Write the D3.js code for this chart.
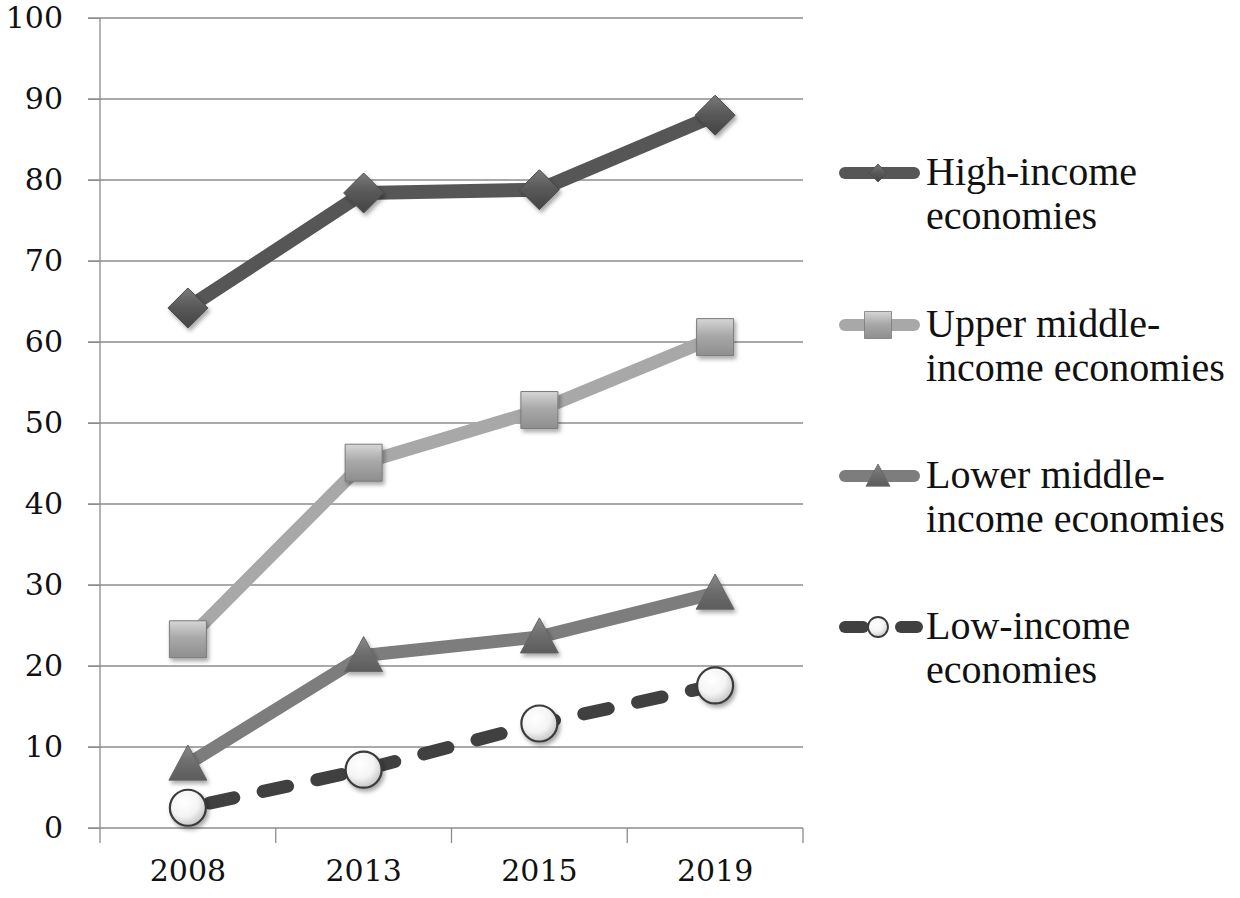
<!DOCTYPE html>
<html>
<head>
<meta charset="utf-8">
<script src="https://cdn.jsdelivr.net/npm/d3@7"></script>
<style>
    body { margin: 0; background: #fff; }
    svg { display: block; }
</style>
</head>
<body>
<svg id="chart"></svg>
<script>
'use strict';

// values
const years = ["2008", "2013", "2015", "2019"];
const highIncome = [64.2, 78.4, 78.8, 88.0];
const upperMiddle = [23.3, 45.1, 51.6, 60.6];
const lowerMiddle = [7.9, 21.3, 23.6, 29.0];
const lowIncome = [2.5, 7.2, 12.9, 17.6];
const yTicks = [0, 10, 20, 30, 40, 50, 60, 70, 80, 90, 100];
const legendLabels = [
    ["High-income", "economies"],
    ["Upper middle-", "income economies"],
    ["Lower middle-", "income economies"],
    ["Low-income", "economies"]
];

let series = [
    { name: "high", values: highIncome, label: legendLabels[0], line: "#565656", width: 14, dash: null, marker: "diamond", fill: "url(#gradDiamond)", stroke: "#4a4a4a" },
    { name: "upper", values: upperMiddle, label: legendLabels[1], line: "#a8a8a8", width: 13, dash: null, marker: "square", fill: "url(#gradSquare)", stroke: "#7a7a7a" },
    { name: "lower", values: lowerMiddle, label: legendLabels[2], line: "#7d7d7d", width: 13, dash: null, marker: "triangle", fill: "url(#gradTriangle)", stroke: "#666666" },
    { name: "low", values: lowIncome, label: legendLabels[3], line: "#404040", width: 13, dash: "25,30", marker: "circle", fill: "url(#gradCircle)", stroke: "#3a3a3a" }
];

function getChartConfig() {
    let margin = { top: 18, right: 437, bottom: 70, left: 100 },
    width = 1240 - margin.left - margin.right,
    height = 898 - margin.top - margin.bottom;

    let svg = d3.select("#chart")
        .attr("width", width + margin.left + margin.right)
        .attr("height", height + margin.top + margin.bottom);

    let container = svg.append("g")
        .attr("transform", "translate(" + margin.left + "," + margin.top + ")");

    return { width, height, container, margin, svg }
}

function getScales(config) {
    let { width, height } = config;
    let xScale = d3.scaleBand()
        .domain(years)
        .range([0, width]);
    let yScale = d3.scaleLinear()
        .domain([0, 100])
        .range([height, 0]);
    return { xScale, yScale }
}

function addDefs(config) {
    let defs = config.svg.append("defs");

    let shadow = defs.append("filter").attr("id", "shadow")
        .attr("x", "-50%").attr("y", "-50%").attr("width", "200%").attr("height", "200%");
    shadow.append("feDropShadow")
        .attr("dx", 2).attr("dy", 3)
        .attr("stdDeviation", 2.2)
        .attr("flood-color", "#000")
        .attr("flood-opacity", 0.35);

    let grads = [
        { id: "gradDiamond", stops: ["#7a7a7a", "#5a5a5a", "#444444"] },
        { id: "gradSquare", stops: ["#d6d6d6", "#a9a9a9", "#8e8e8e"] },
        { id: "gradTriangle", stops: ["#8a8a8a", "#6f6f6f", "#5c5c5c"] }
    ];
    grads.forEach(g => {
        let lg = defs.append("linearGradient").attr("id", g.id)
            .attr("x1", 0).attr("y1", 0).attr("x2", 0).attr("y2", 1);
        lg.append("stop").attr("offset", "0%").attr("stop-color", g.stops[0]);
        lg.append("stop").attr("offset", "45%").attr("stop-color", g.stops[1]);
        lg.append("stop").attr("offset", "100%").attr("stop-color", g.stops[2]);
    })

    let rg = defs.append("radialGradient").attr("id", "gradCircle")
        .attr("cx", "40%").attr("cy", "35%").attr("r", "65%");
    rg.append("stop").attr("offset", "0%").attr("stop-color", "#ffffff");
    rg.append("stop").attr("offset", "60%").attr("stop-color", "#f4f4f4");
    rg.append("stop").attr("offset", "100%").attr("stop-color", "#c8c8c8");
}

// marker outline centred on its bounding box
function markerPath(type, s) {
    if (type === "diamond") {
        return "M0," + (-s) + "L" + s + ",0L0," + s + "L" + (-s) + ",0Z";
    }
    if (type === "square") {
        return "M" + (-s) + "," + (-s) + "H" + s + "V" + s + "H" + (-s) + "Z";
    }
    if (type === "triangle") {
        return "M0," + (-s) + "L" + s + "," + s * 0.85 + "L" + (-s) + "," + s * 0.85 + "Z";
    }
    return d3.arc()({ innerRadius: 0, outerRadius: s, startAngle: 0, endAngle: 2 * Math.PI });
}

let markerSize = { diamond: 20, square: 18.5, triangle: 19, circle: 18 };
let legendMarkerSize = { diamond: 9, square: 13.5, triangle: 12, circle: 10 };

function drawAxes(config, scales) {
    let { container, width, height } = config;
    let { xScale, yScale } = scales;

    // horizontal grid lines
    container.append("g")
        .selectAll("line")
        .data(yTicks)
        .enter()
        .append("line")
        .attr("x1", -12)
        .attr("x2", width)
        .attr("y1", d => yScale(d))
        .attr("y2", d => yScale(d))
        .style("stroke", "#8c8c8c")
        .style("stroke-width", 1.3);

    let yAxis = d3.axisLeft(yScale)
        .tickValues(yTicks)
        .tickSize(12)
        .tickPadding(25);

    let yg = container.append("g")
        .attr("class", "y axis")
        .call(yAxis);
    yg.select(".domain").remove();
    yg.selectAll("line").style("stroke", "#8c8c8c");
    yg.selectAll("text")
        .style("font-family", "'DejaVu Serif', serif")
        .style("font-size", "30px")
        .style("fill", "#111");

    container.append("line")
        .attr("x1", 0).attr("x2", 0)
        .attr("y1", 0).attr("y2", height + 15)
        .style("stroke", "#8c8c8c")
        .style("stroke-width", 1.3);

    // category tick marks on band edges
    let edges = years.map(d => xScale(d)).concat([width]);
    container.append("g")
        .selectAll("line")
        .data(edges.slice(1))
        .enter()
        .append("line")
        .attr("x1", d => d).attr("x2", d => d)
        .attr("y1", height).attr("y2", height + 15)
        .style("stroke", "#8c8c8c")
        .style("stroke-width", 1.3);

    let xAxis = d3.axisBottom(xScale).tickSize(0).tickPadding(32);
    let xg = container.append("g")
        .attr("class", "x axis")
        .attr("transform", "translate(0," + height + ")")
        .call(xAxis);
    xg.select(".domain").remove();
    xg.selectAll("text")
        .style("font-family", "'DejaVu Serif', serif")
        .style("font-size", "30px")
        .style("fill", "#111");
}

function drawSeries(config, scales) {
    let { container } = config;
    let { xScale, yScale } = scales;
    let half = xScale.bandwidth() / 2;

    let line = d3.line()
        .x((d, i) => xScale(years[i]) + half)
        .y(d => yScale(d));

    series.forEach(s => {
        let g = container.append("g").attr("class", "series " + s.name);

        g.append("path")
            .datum(s.values)
            .attr("d", line)
            .attr("fill", "none")
            .attr("stroke", s.line)
            .attr("stroke-width", s.width)
            .attr("stroke-linecap", s.dash ? "round" : "butt")
            .attr("stroke-linejoin", "round")
            .attr("stroke-dasharray", s.dash)
            .attr("stroke-dashoffset", s.dash ? -22 : null);

        g.selectAll(".marker")
            .data(s.values)
            .enter()
            .append("path")
            .attr("class", "marker")
            .attr("transform", (d, i) => "translate(" + (xScale(years[i]) + half) + "," + yScale(d) + ")")
            .attr("d", markerPath(s.marker, markerSize[s.marker]))
            .attr("fill", s.fill)
            .attr("stroke", s.stroke)
            .attr("stroke-width", s.marker === "circle" ? 2.2 : 1)
            .attr("filter", "url(#shadow)");
    })
}

function drawLegend(config) {
    let { svg } = config;
    let rows = [173, 325, 476, 627];

    let items = svg.selectAll(".legendItem")
        .data(series)
        .enter()
        .append("g")
        .attr("class", "legendItem")
        .attr("transform", (d, i) => "translate(840," + rows[i] + ")");

    items.each(function (d) {
        let g = d3.select(this);
        if (d.dash) {
            [[0, 24], [56, 78]].forEach(p => {
                g.append("line")
                    .attr("x1", p[0] + 5).attr("x2", p[1] - 1)
                    .attr("y1", 0).attr("y2", 0)
                    .attr("stroke", d.line)
                    .attr("stroke-width", 12)
                    .attr("stroke-linecap", "round");
            })
        } else {
            g.append("line")
                .attr("x1", 5).attr("x2", 74)
                .attr("y1", 0).attr("y2", 0)
                .attr("stroke", d.line)
                .attr("stroke-width", 12)
                .attr("stroke-linecap", "round");
        }
        g.append("path")
            .attr("transform", "translate(38,0)")
            .attr("d", markerPath(d.marker, legendMarkerSize[d.marker]))
            .attr("fill", d.fill)
            .attr("stroke", d.stroke)
            .attr("stroke-width", d.marker === "circle" ? 1.8 : 0.8);
    })

    items.append("text")
        .attr("x", 86)
        .attr("y", 12)
        .style("font-family", "'Liberation Serif', 'Times New Roman', serif")
        .style("font-size", "40px")
        .style("fill", "#111")
        .selectAll("tspan")
        .data(d => d.label)
        .enter()
        .append("tspan")
        .attr("x", 86)
        .attr("dy", (d, i) => i === 0 ? 0 : 44)
        .text(d => d);
}

function drawChart() {
    let config = getChartConfig();
    let scales = getScales(config);
    addDefs(config);
    drawAxes(config, scales);
    drawSeries(config, scales);
    drawLegend(config);
}

drawChart();
</script>
</body>
</html>
